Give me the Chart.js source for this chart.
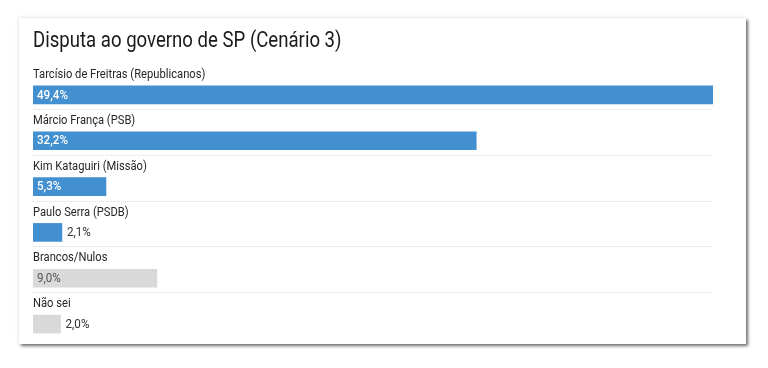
<!DOCTYPE html>
<html>
<head>
<meta charset="utf-8">
<script src="https://cdn.jsdelivr.net/npm/chart.js@4"></script>
<style>
  html, body { margin: 0; padding: 0; background: #fff; width: 768px; height: 368px; overflow: hidden; }
  #card { position: absolute; left: 19px; top: 18px; width: 727px; height: 326px; background: #fff;
          box-shadow: 2px 2px 3px rgba(0,0,0,0.55), 0 0 5px rgba(0,0,0,0.10); }
  #wrap { position: absolute; left: 0; top: 0; width: 768px; height: 368px; }
</style>
</head>
<body>
<div id="card"></div>
<div id="wrap"><canvas id="c" width="768" height="368"></canvas></div>
<script>
const chartTitle = 'Disputa ao governo de SP (Cenário 3)';
const categories = [
  'Tarcísio de Freitras (Republicanos)',
  'Márcio França (PSB)',
  'Kim Kataguiri (Missão)',
  'Paulo Serra (PSDB)',
  'Brancos/Nulos',
  'Não sei'
];
const values = [49.4, 32.2, 5.3, 2.1, 9.0, 2.0];
const isCandidate = [true, true, true, true, false, false];

const BLUE = '#4390d0';
const GRAY = '#d9d9d9';
const FONT = 'Roboto, "Noto Sans", sans-serif';

function fmt(v) { return v.toFixed(1).replace('.', ',') + '%'; }

function scaledText(ctx, txt, x, y, sx) {
  ctx.save();
  ctx.translate(x, y);
  ctx.scale(sx, 1);
  ctx.fillText(txt, 0, 0);
  ctx.restore();
}

const rowPlugin = {
  id: 'rowPlugin',
  beforeDatasetsDraw(chart) {
    const ctx = chart.ctx;
    const meta = chart.getDatasetMeta(0);
    const area = chart.chartArea;
    ctx.save();
    // title
    ctx.font = '400 22px ' + FONT;
    ctx.fillStyle = '#1a1a1a';
    ctx.textBaseline = 'alphabetic';
    ctx.textAlign = 'left';
    scaledText(ctx, chartTitle, area.left, 47, 0.845);
    // separators
    ctx.strokeStyle = '#dcdcdc';
    ctx.lineWidth = 1;
    ctx.setLineDash([1, 1]);
    meta.data.forEach((el, i) => {
      if (i === meta.data.length - 1) return;
      const y = Math.round(el.y + el.height / 2 + 5) + 0.5;
      ctx.beginPath();
      ctx.moveTo(area.left, y);
      ctx.lineTo(area.right, y);
      ctx.stroke();
    });
    ctx.restore();
  },
  afterDatasetsDraw(chart) {
    const ctx = chart.ctx;
    const meta = chart.getDatasetMeta(0);
    const SXL = 0.895;
    const SXV = 0.93;
    ctx.save();
    ctx.textAlign = 'left';
    ctx.textBaseline = 'middle';
    meta.data.forEach((el, i) => {
      // category label above bar
      ctx.font = '400 12.5px ' + FONT;
      ctx.fillStyle = '#262626';
      scaledText(ctx, categories[i], el.base, el.y - 20, SXL);
      // value label
      const txt = fmt(values[i]);
      ctx.font = '500 12.5px ' + FONT;
      const w = ctx.measureText(txt).width * SXV;
      const barW = el.x - el.base;
      if (w + 8 < barW) {
        ctx.fillStyle = isCandidate[i] ? '#ffffff' : '#555555';
        if (!isCandidate[i]) ctx.font = '400 12.5px ' + FONT;
        scaledText(ctx, txt, el.base + 4, el.y + 0.5, SXV);
      } else {
        ctx.font = '400 12.5px ' + FONT;
        ctx.fillStyle = '#333333';
        scaledText(ctx, txt, el.x + 5, el.y + 0.5, SXV);
      }
    });
    ctx.restore();
  }
};

new Chart(document.getElementById('c'), {
  type: 'bar',
  data: {
    labels: categories,
    datasets: [{
      data: values,
      backgroundColor: isCandidate.map(c => c ? BLUE : GRAY),
      borderWidth: 0,
      barThickness: 18
    }]
  },
  options: {
    indexAxis: 'y',
    responsive: false,
    animation: false,
    events: [],
    layout: { padding: { left: 33, right: 55, top: 72, bottom: 21 } },
    scales: {
      x: { display: false, min: 0, max: Math.max(...values) },
      y: { display: false, offset: true }
    },
    plugins: { legend: { display: false }, tooltip: { enabled: false }, title: { display: false } }
  },
  plugins: [rowPlugin]
});
</script>
</body>
</html>
